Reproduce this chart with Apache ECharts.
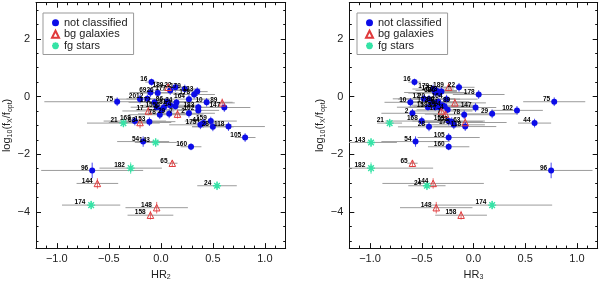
<!DOCTYPE html>
<html><head><meta charset="utf-8">
<script src="https://cdn.jsdelivr.net/npm/echarts@6/dist/echarts.min.js"></script>
<style>html,body{margin:0;padding:0;background:#fff}#c{width:600px;height:286px}</style>
</head><body><div id="c"></div>
<script>
// ---- data ----
const names = ['16','189','22','177','179','123','178','69','26','20','12','164','10','89','147','75','172','86','81','15','34','14','55','4','183','102','17','78','29','7','2','168','63','21','153','175','44','159','28','118','105','54','143','160','65','96','182','144','24','174','148','158'];
const types = ['nc','bg','nc','nc','nc','nc','nc','nc','nc','nc','nc','nc','nc','bg','nc','nc','nc','nc','nc','nc','nc','nc','nc','nc','nc','nc','bg','nc','nc','bg','nc','nc','bg','fg','nc','nc','nc','nc','nc','nc','nc','nc','fg','nc','bg','nc','fg','bg','fg','fg','bg','bg'];
const hr2 = [-0.09,0.07,0.14,0.09,0.23,0.35,0.32,-0.10,-0.03,-0.20,-0.13,0.27,0.44,0.59,0.61,-0.42,-0.06,0.06,0.09,-0.04,0.15,0.14,0.03,0.01,0.36,0.36,-0.12,-0.01,0.08,0.16,0.27,-0.25,-0.20,-0.36,-0.11,0.38,0.41,0.48,0.50,0.65,0.81,-0.17,-0.05,0.29,0.11,-0.66,-0.29,-0.61,0.54,-0.67,-0.04,-0.10];
const hr3 = [-0.57,-0.24,-0.14,-0.36,-0.39,-0.31,0.05,-0.37,-0.33,-0.43,-0.48,-0.26,-0.61,-0.18,0.02,0.78,-0.40,-0.34,-0.30,-0.44,-0.36,-0.28,-0.33,-0.25,-0.37,0.42,-0.31,-0.09,0.18,-0.27,-0.59,-0.50,-0.08,-0.81,-0.21,-0.19,0.59,-0.24,-0.43,-0.08,-0.24,-0.56,-0.99,-0.24,-0.59,0.75,-0.99,-0.39,-0.45,0.18,-0.36,-0.12];
const logRatio = [0.50,0.32,0.32,0.21,0.26,0.17,0.07,0.14,0.12,-0.09,-0.08,-0.09,-0.20,-0.22,-0.38,-0.18,-0.20,-0.18,-0.30,-0.37,-0.21,-0.34,-0.37,-0.46,-0.37,-0.48,-0.50,-0.63,-0.60,-0.61,-0.58,-0.85,-0.90,-0.92,-0.87,-0.98,-0.92,-0.85,-1.05,-1.04,-1.42,-1.56,-1.59,-1.74,-2.31,-2.56,-2.48,-3.01,-3.09,-3.76,-3.85,-4.11];
const errHr2 = [0.06,0.15,0.12,0.15,0.15,0.10,0.20,0.20,0.20,0.25,0.20,0.20,0.25,0.12,0.25,0.70,0.25,0.25,0.25,0.25,0.25,0.25,0.25,0.25,0.20,0.20,0.25,0.30,0.30,0.25,0.25,0.30,0.30,0.35,0.25,0.30,0.15,0.25,0.20,0.35,0.10,0.25,0.20,0.10,0.05,0.49,0.30,0.20,0.19,0.28,0.30,0.22];
const errHr3 = [0.06,0.12,0.15,0.20,0.20,0.15,0.25,0.30,0.30,0.30,0.30,0.30,0.25,0.30,0.20,0.30,0.30,0.30,0.30,0.30,0.30,0.30,0.30,0.30,0.25,0.25,0.30,0.30,0.25,0.20,0.30,0.35,0.40,0.12,0.30,0.30,0.16,0.35,0.30,0.30,0.30,0.33,0.25,0.20,0.05,0.40,0.60,0.49,0.18,0.58,0.35,0.25];
const errLog = [0.12,0.15,0.15,0.15,0.15,0.15,0.15,0.15,0.15,0.15,0.15,0.15,0.15,0.15,0.15,0.15,0.12,0.12,0.12,0.12,0.12,0.12,0.12,0.12,0.12,0.15,0.15,0.15,0.15,0.15,0.15,0.15,0.2,0.15,0.15,0.15,0.15,0.15,0.15,0.15,0.15,0.18,0.15,0.12,0.12,0.27,0.2,0.18,0.15,0.15,0.2,0.15];

const typeKeys = ['nc','bg','fg'];
const typeNames = ['not classified','bg galaxies','fg stars'];
const xMajorTicks = [-1,-0.5,0,0.5,1];
const xMinorTicks = [-1.2,-1.1,-0.9,-0.8,-0.7,-0.6,-0.4,-0.3,-0.2,-0.1,0.1,0.2,0.3,0.4,0.6,0.7,0.8,0.9,1.1,1.2];
const yMajorTicks = [-4,-2,0,2];
const yMinorTicks = [-5,-4.5,-3.5,-3,-2.5,-1.5,-1,-0.5,0.5,1,1.5,2.5,3];
const xTitles = ['HR{sub|2}','HR{sub|3}'];

// ---- styling ----
const colors = {nc:'#0c0ce8', bg:'#e0393b', fg:'#35e3a6'};
const FONT = "'Liberation Sans', Arial, sans-serif";
const starPath = 'path://M5,0L5,10M0,5L10,5M1.5,1.5L8.5,8.5M1.5,8.5L8.5,1.5';
const symbolFor = {nc:'circle', bg:'triangle', fg:starPath};
const sizeFor = {nc:6, bg:6.5, fg:8};
const styleFor = {
  nc:{color:colors.nc, opacity:1},
  bg:{color:'rgba(255,255,255,0)', borderColor:colors.bg, borderWidth:1, opacity:1},
  fg:{color:'rgba(255,255,255,0)', borderColor:colors.fg, borderWidth:1.4, opacity:1}
};
const fmt = v => (v < 0 ? '\u2212' + (-v) : '' + v);
const fmtX = v => (v < 0 ? '\u2212' + (-v).toFixed(1) : v.toFixed(1));

const grids = [
  {left:36, width:249.7, top:2.7, height:251.6},
  {left:349.3, width:248.4, top:2.7, height:251.6}
];

const lineOn = {show:true, onZero:false, lineStyle:{color:'#111', width:1}};
const lineOff = {show:false, onZero:false};
const xAxes = [], yAxes = [], series = [];
grids.forEach((g, gi) => {
  const base = {gridIndex:gi, type:'value', min:-1.2, max:1.2, splitLine:{show:false},
    axisLine:lineOff, axisLabel:{show:false}};
  xAxes.push(Object.assign({}, base, {position:'bottom', axisLine:lineOn,
    axisTick:{show:true, inside:true, length:5, customValues:xMajorTicks, lineStyle:{color:'#111'}},
    axisLabel:{show:true, customValues:xMajorTicks, formatter:fmtX, color:'#222', fontSize:11, fontFamily:FONT, margin:5},
    name:xTitles[gi], nameLocation:'middle', nameGap:16,
    nameTextStyle:{color:'#222', fontSize:11, fontFamily:FONT, rich:{sub:{fontSize:7, fontFamily:FONT, color:'#222', padding:[6,0,0,0]}}}}));
  xAxes.push(Object.assign({}, base, {position:'bottom',
    axisTick:{show:true, inside:true, length:2.5, customValues:xMinorTicks, lineStyle:{color:'#111'}}}));
  xAxes.push(Object.assign({}, base, {position:'top', axisLine:lineOn,
    axisTick:{show:true, inside:true, length:5, customValues:xMajorTicks, lineStyle:{color:'#111'}}}));
  xAxes.push(Object.assign({}, base, {position:'top',
    axisTick:{show:true, inside:true, length:2.5, customValues:xMinorTicks, lineStyle:{color:'#111'}}}));

  const ybase = {gridIndex:gi, type:'value', min:-5.25, max:3.25, splitLine:{show:false},
    axisLine:lineOff, axisLabel:{show:false}};
  yAxes.push(Object.assign({}, ybase, {position:'left', axisLine:lineOn,
    axisTick:{show:true, inside:true, length:5, customValues:yMajorTicks, lineStyle:{color:'#111'}},
    axisLabel:{show:true, customValues:yMajorTicks, formatter:fmt, color:'#222', fontSize:11, fontFamily:FONT, margin:6},
    name:'log{sub|10}(f{sub|X}/f{sub|opt})', nameLocation:'middle', nameGap:21, nameRotate:90,
    nameTextStyle:{color:'#222', fontSize:11, fontFamily:FONT, rich:{sub:{fontSize:7, fontFamily:FONT, color:'#222', padding:[6,0,0,0]}}}}));
  yAxes.push(Object.assign({}, ybase, {position:'left',
    axisTick:{show:true, inside:true, length:2.5, customValues:yMinorTicks, lineStyle:{color:'#111'}}}));
  yAxes.push(Object.assign({}, ybase, {position:'right', axisLine:lineOn,
    axisTick:{show:true, inside:true, length:5, customValues:yMajorTicks, lineStyle:{color:'#111'}}}));
  yAxes.push(Object.assign({}, ybase, {position:'right',
    axisTick:{show:true, inside:true, length:2.5, customValues:yMinorTicks, lineStyle:{color:'#111'}}}));

  const hr = gi === 0 ? hr2 : hr3;
  const eh = gi === 0 ? errHr2 : errHr3;
  series.push({
    type:'custom', xAxisIndex:gi*4, yAxisIndex:gi*4, clip:true, z:2, silent:true,
    data: names.map((n, i) => [hr[i], logRatio[i], eh[i], errLog[i], typeKeys.indexOf(types[i])]),
    renderItem(params, api) {
      const x = api.value(0), y = api.value(1), ex = api.value(2), ey = api.value(3), t = api.value(4);
      const a = api.coord([x - ex, y]), b = api.coord([x + ex, y]);
      const c = api.coord([x, y - ey]), d = api.coord([x, y + ey]);
      return {type:'group', children:[
        {type:'line', shape:{x1:a[0], y1:a[1], x2:b[0], y2:b[1]}, style:{stroke:'#9c9c9c', lineWidth:1}},
        {type:'line', shape:{x1:c[0], y1:c[1], x2:d[0], y2:d[1]}, style:{stroke:colors[typeKeys[t]], lineWidth:1, opacity:0.75}}
      ]};
    }
  });
  typeKeys.forEach((tk, ti) => {
    const data = [];
    names.forEach((n, i) => { if (types[i] === tk) data.push([hr[i], logRatio[i], n]); });
    series.push({
      type:'scatter', name:typeNames[ti], xAxisIndex:gi*4, yAxisIndex:gi*4, z:3,
      symbol:symbolFor[tk], symbolSize:sizeFor[tk], itemStyle:styleFor[tk],
      data,
      label:{show:true, position:'left', distance:1, offset:[0,-2.5], formatter:p => p.value[2],
        color:'#000', fontSize:6.5, fontWeight:'bold', fontFamily:"'Liberation Sans Narrow', 'Liberation Sans', Arial, sans-serif"}
    });
  });
});

const legendData = typeNames.map(n => ({name:n}));
const mkLegend = (left) => ({
  left, top:13, orient:'vertical', data:legendData, itemGap:0, itemWidth:7, itemHeight:7,
  padding:[4,6,3,8], borderColor:'#999', borderWidth:1, selectedMode:false,
  textStyle:{color:'#222', fontSize:11, fontFamily:FONT, lineHeight:11.5}
});

const chart = echarts.init(document.getElementById('c'), null, {renderer:'canvas'});
chart.setOption({
  animation:false,
  backgroundColor:'#fff',
  grid:grids,
  xAxis:xAxes,
  yAxis:yAxes,
  legend:[mkLegend(43), mkLegend(357)],
  series
});
</script></body></html>
